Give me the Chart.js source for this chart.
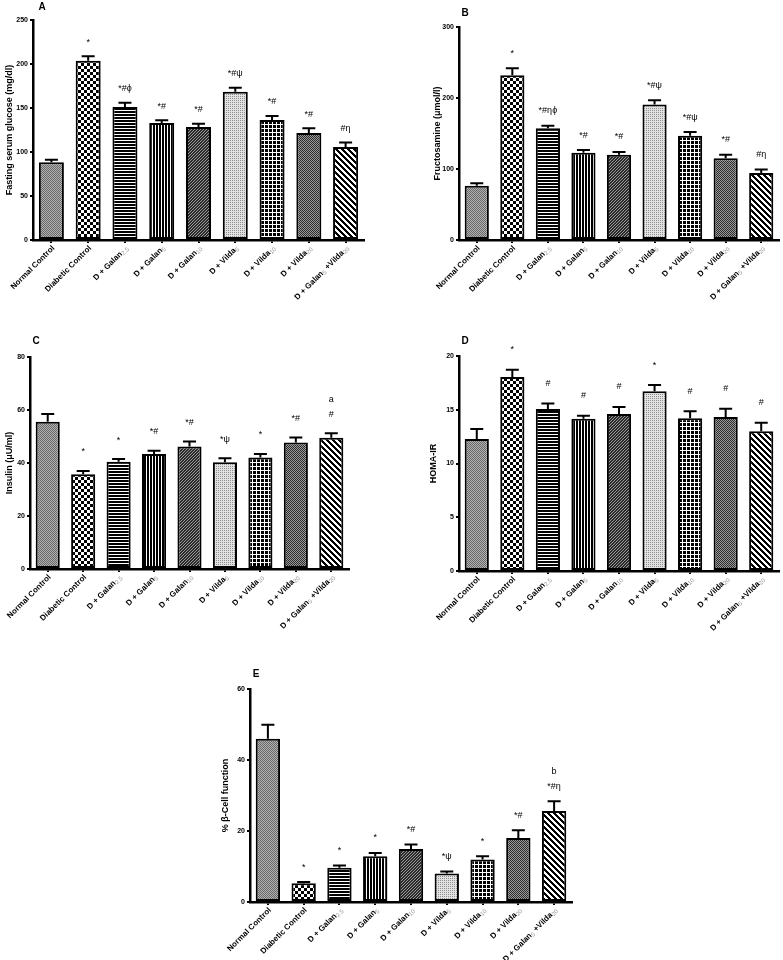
<!DOCTYPE html>
<html>
<head>
<meta charset="utf-8">
<script src="https://cdn.jsdelivr.net/npm/chart.js@4.4.1/dist/chart.umd.min.js"></script>
<style>
body { margin: 0; background: #fff; }
#figure { position: relative; width: 783px; height: 960px; background: #fff; }
#figure canvas { position: absolute; }
</style>
</head>
<body>
<div id="figure">
  <canvas id="chartA" width="390" height="330" style="left:0px;top:0px"></canvas>
  <canvas id="chartB" width="393" height="330" style="left:390px;top:0px"></canvas>
  <canvas id="chartC" width="390" height="330" style="left:0px;top:330px"></canvas>
  <canvas id="chartD" width="393" height="330" style="left:390px;top:330px"></canvas>
  <canvas id="chartE" width="400" height="300" style="left:190px;top:660px"></canvas>
</div>
<script>
// groups (text in [] is drawn as a small subscript)
const categories = ['Normal Control', 'Diabetic Control', 'D + Galan[2.5]', 'D + Galan[5]', 'D + Galan[10]',
    'D + Vilda[5]', 'D + Vilda[10]', 'D + Vilda[20]', 'D + Galan[5] +Vilda[20]'];

// A - fasting serum glucose
const glucoseMean = [88.3, 203.8, 151, 133, 128.4, 168.6, 136.4, 121.6, 105.7];
const glucoseErr = [3, 5, 5, 3, 3.6, 4.5, 4.6, 5.4, 5];
const glucoseNotes = ['', '*', '*#\u03D5', '*#', '*#', '*#\u03C8', '*#', '*#', '#\u03B7'];
const glucoseTicks = [0, 50, 100, 150, 200, 250];

// B - fructosamine
const fructoMean = [76.4, 232, 157.5, 122.8, 120, 190.8, 146.7, 115.3, 94.2];
const fructoErr = [3.6, 10, 3.5, 3.8, 4, 6.2, 5.3, 4.7, 5.2];
const fructoNotes = ['', '*', '*#\u03B7\u03D5', '*#', '*#', '*#\u03C8', '*#\u03C8', '*#', '#\u03B7'];
const fructoTicks = [0, 100, 200, 300];

// C - insulin
const insulinMean = [55.6, 35.75, 40.5, 43.4, 46.25, 40.25, 42.1, 47.75, 49.5];
const insulinErr = [2.9, 1.25, 1, 1.2, 1.85, 1.5, 1.3, 1.85, 1.75];
const insulinNotes = ['', '*', '*', '*#', '*#', '*\u03C8', '*', '*#', '#'];
const insulinNotes2 = ['', '', '', '', '', '', '', '', 'a'];
const insulinTicks = [0, 20, 40, 60, 80];

// D - HOMA-IR
const homaMean = [12.27, 18.05, 15.08, 14.17, 14.6, 16.73, 14.2, 14.33, 13.0];
const homaErr = [0.93, 0.68, 0.5, 0.28, 0.66, 0.57, 0.67, 0.77, 0.8];
const homaNotes = ['', '*', '#', '#', '#', '*', '#', '#', '#'];
const homaTicks = [0, 5, 10, 15, 20];

// E - % beta-cell function
const betaMean = [46, 5.26, 9.67, 12.9, 14.9, 8.0, 12.0, 18.0, 25.6];
const betaErr = [3.9, 0.34, 0.63, 0.9, 1.3, 0.6, 0.9, 2.2, 2.8];
const betaNotes = ['', '*', '*', '*', '*#', '*\u03C8', '*', '*#', '*#\u03B7'];
const betaNotes2 = ['', '', '', '', '', '', '', '', 'b'];
const betaTicks = [0, 20, 40, 60];

const FONT = "'Liberation Sans', Arial, sans-serif";

// small tiles for the bar fills
function makeTile(size, paint) {
    const c = document.createElement('canvas');
    c.width = size;
    c.height = size;
    const g = c.getContext('2d');
    g.fillStyle = '#fff';
    g.fillRect(0, 0, size, size);
    paint(g, size);
    return g.createPattern(c, 'repeat');
}

function makePatterns() {
    const list = [];
    // normal control: fine grey dither
    list.push(makeTile(2, (g) => {
        g.fillStyle = '#6a6a6a'; g.fillRect(0, 0, 1, 1); g.fillRect(1, 1, 1, 1);
        g.fillStyle = '#b0b0b0'; g.fillRect(1, 0, 1, 1); g.fillRect(0, 1, 1, 1);
    }));
    // diabetic control: checkerboard
    list.push(makeTile(6, (g) => {
        g.fillStyle = '#000'; g.fillRect(0, 0, 3, 3); g.fillRect(3, 3, 3, 3);
    }));
    // galan 2.5: horizontal lines
    list.push(makeTile(3, (g) => {
        g.fillStyle = '#000'; g.fillRect(0, 0, 3, 2);
    }));
    // galan 5: vertical lines
    list.push(makeTile(3, (g) => {
        g.fillStyle = '#000'; g.fillRect(0, 0, 2, 3);
    }));
    // galan 10: dense rising hatch
    list.push(makeTile(3, (g) => {
        g.fillStyle = '#2a2a2a'; g.fillRect(0, 0, 3, 3);
        g.fillStyle = '#9a9a9a'; g.fillRect(2, 0, 1, 1); g.fillRect(1, 1, 1, 1); g.fillRect(0, 2, 1, 1);
    }));
    // vilda 5: light dots
    list.push(makeTile(2, (g) => {
        g.fillStyle = '#e2e2e2'; g.fillRect(0, 0, 2, 2);
        g.fillStyle = '#8c8c8c'; g.fillRect(0, 0, 1, 1);
    }));
    // vilda 10: grid
    list.push(makeTile(4, (g) => {
        g.fillStyle = '#000'; g.fillRect(1, 1, 3, 3);
    }));
    // vilda 20: dark dither
    list.push(makeTile(2, (g) => {
        g.fillStyle = '#2c2c2c'; g.fillRect(0, 0, 1, 1); g.fillRect(1, 1, 1, 1);
        g.fillStyle = '#9a9a9a'; g.fillRect(1, 0, 1, 1); g.fillRect(0, 1, 1, 1);
    }));
    // combination: wide falling stripes
    list.push(makeTile(6, (g) => {
        g.fillStyle = '#000';
        for (let i = 0; i < 6; i++) {
            g.fillRect(i, i, 3, 1);
            if (i > 3) g.fillRect(i - 6, i, 3, 1);
            if (i + 3 > 6) g.fillRect(0, i, i + 3 - 6, 1);
        }
    }));
    return list;
}

const patterns = makePatterns();

function makePanel(canvasId, means, errs, notes, notes2, ticks, yTitle, letter, L) {
    const canvas = document.getElementById(canvasId);
    const ctx = canvas.getContext('2d');
    if (!ctx) {
        console.error('no context for', canvasId);
        return;
    }

    const panelPlugin = {
        id: 'panelExtras',
        afterDatasetsDraw(chart) {
            const c = chart.ctx;
            const meta = chart.getDatasetMeta(0);
            const yScale = chart.scales.y;
            c.save();
            // error bars (upper only)
            c.strokeStyle = '#000';
            c.lineWidth = 2;
            meta.data.forEach((bar, i) => {
                const yTop = yScale.getPixelForValue(means[i] + errs[i]);
                c.beginPath();
                c.moveTo(bar.x, bar.y);
                c.lineTo(bar.x, yTop);
                c.moveTo(bar.x - 6.5, yTop);
                c.lineTo(bar.x + 6.5, yTop);
                c.stroke();
            });
            // significance marks
            c.fillStyle = '#000';
            c.textAlign = 'center';
            c.textBaseline = 'middle';
            c.font = '9px ' + FONT;
            meta.data.forEach((bar, i) => {
                const yTop = yScale.getPixelForValue(means[i] + errs[i]);
                if (notes[i]) c.fillText(notes[i], bar.x, yTop - L.gap);
                if (notes2 && notes2[i]) c.fillText(notes2[i], bar.x, yTop - L.gap - 15);
            });
            c.restore();
        },
        afterDraw(chart) {
            const c = chart.ctx;
            const xScale = chart.scales.x;
            c.save();
            // rotated group names with subscripts
            categories.forEach((label, i) => {
                const parts = label.split(/(\[[^\]]*\])/).filter(p => p.length);
                const segs = parts.map(p => {
                    const sub = p.startsWith('[');
                    const text = sub ? p.slice(1, -1) : p;
                    c.font = sub ? '6px ' + FONT : 'bold 8px ' + FONT;
                    return { text: text, sub: sub, w: c.measureText(text).width };
                });
                const total = segs.reduce((s, g) => s + g.w, 0);
                const x = xScale.getPixelForValue(i);
                c.save();
                c.translate(x + 2, xScale.top + 7);
                c.rotate(-Math.PI / 4);
                c.textAlign = 'left';
                c.textBaseline = 'middle';
                let pos = -total;
                segs.forEach(g => {
                    c.font = g.sub ? '6px ' + FONT : 'bold 8px ' + FONT;
                    c.fillStyle = g.sub ? '#9a9a9a' : '#000';
                    c.fillText(g.text, pos, g.sub ? 2 : 0);
                    pos += g.w;
                });
                c.restore();
            });
            // panel letter
            c.fillStyle = '#000';
            c.font = 'bold 10px ' + FONT;
            c.textAlign = 'center';
            c.textBaseline = 'middle';
            c.fillText(letter, L.letterX, L.letterY);
            c.restore();
        }
    };

    return new Chart(ctx, {
        type: 'bar',
        data: {
            labels: categories,
            datasets: [{
                data: means,
                backgroundColor: patterns,
                borderColor: '#000',
                borderWidth: 2,
                borderSkipped: false,
                barPercentage: 0.68,
                categoryPercentage: 1.0
            }]
        },
        options: {
            responsive: false,
            animation: false,
            layout: {
                padding: { left: L.padLeft, top: L.top, right: L.padRight, bottom: 0 }
            },
            plugins: {
                legend: { display: false },
                tooltip: { enabled: false }
            },
            scales: {
                x: {
                    offset: true,
                    grid: {
                        display: true,
                        drawOnChartArea: false,
                        offset: false,
                        tickLength: 3,
                        color: '#000',
                        lineWidth: 2
                    },
                    border: { display: true, color: '#000', width: 2.5 },
                    ticks: { display: false },
                    afterFit: (s) => { s.height = L.xHeight; }
                },
                y: {
                    min: ticks[0],
                    max: ticks[ticks.length - 1],
                    afterBuildTicks: (s) => { s.ticks = ticks.map(v => ({ value: v })); },
                    grid: {
                        drawOnChartArea: false,
                        tickLength: 3,
                        color: '#000',
                        lineWidth: 2
                    },
                    border: { display: true, color: '#000', width: 2.5 },
                    ticks: {
                        color: '#000',
                        padding: 2,
                        font: { family: FONT, size: 7, weight: 'bold' }
                    },
                    title: {
                        display: true,
                        text: yTitle,
                        color: '#000',
                        font: { family: FONT, size: 9, weight: 'bold' },
                        padding: { top: 4, bottom: 0 }
                    },
                    afterFit: (s) => { s.width = L.yWidth; }
                }
            }
        },
        plugins: [panelPlugin]
    });
}

document.addEventListener('DOMContentLoaded', () => {
    makePanel('chartA', glucoseMean, glucoseErr, glucoseNotes, null, glucoseTicks,
        'Fasting serum glucose (mg/dl)', 'A',
        { padLeft: 0, yWidth: 33, top: 20, padRight: 26, xHeight: 90, gap: 14, letterX: 42, letterY: 7 });
    makePanel('chartB', fructoMean, fructoErr, fructoNotes, null, fructoTicks,
        'Fructosamine (\u03BCmol/l)', 'B',
        { padLeft: 38, yWidth: 31, top: 27, padRight: 4, xHeight: 90, gap: 15, letterX: 75, letterY: 13 });
    makePanel('chartC', insulinMean, insulinErr, insulinNotes, insulinNotes2, insulinTicks,
        'Insulin (\u03BCU/ml)', 'C',
        { padLeft: 0, yWidth: 30, top: 27, padRight: 41, xHeight: 91, gap: 19, letterX: 36, letterY: 11 });
    makePanel('chartD', homaMean, homaErr, homaNotes, null, homaTicks,
        'HOMA-IR', 'D',
        { padLeft: 34, yWidth: 35, top: 26, padRight: 4, xHeight: 89, gap: 20, letterX: 75, letterY: 11 });
    makePanel('chartE', betaMean, betaErr, betaNotes, betaNotes2, betaTicks,
        '% \u03B2-Cell function', 'E',
        { padLeft: 26, yWidth: 34, top: 29, padRight: 18, xHeight: 58, gap: 15, letterX: 66, letterY: 14 });
});
</script>
</body>
</html>
